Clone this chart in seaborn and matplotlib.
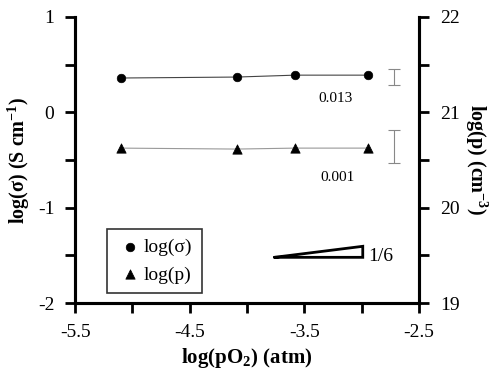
import matplotlib
matplotlib.use("Agg")
import matplotlib.pyplot as plt
import pandas as pd
import seaborn as sns

# data
log_po2 = [-5.1, -4.09, -3.58, -2.94]
log_sigma = [0.36, 0.37, 0.39, 0.39]
log_p = [20.625, 20.615, 20.625, 20.625]

err_x = -2.72
sigma_err = (0.37, 0.085)     # centre, half width
p_err = (20.64, 0.175)
err_labels = ["0.013", "0.001"]

slope_x = [-3.76, -2.99]
slope_y0 = -1.52
slope = 1 / 6

sns.set_style("ticks")
plt.rcParams["font.family"] = ["Liberation Serif", "DejaVu Serif"]
plt.rcParams["mathtext.fontset"] = "custom"
plt.rcParams["mathtext.rm"] = "Liberation Serif"
plt.rcParams["mathtext.bf"] = "Liberation Serif:bold"
plt.rcParams["axes.unicode_minus"] = False
plt.rcParams["text.color"] = "black"
plt.rcParams["axes.labelcolor"] = "black"
plt.rcParams["xtick.color"] = "black"
plt.rcParams["ytick.color"] = "black"

df = pd.DataFrame({"x": log_po2, "sigma": log_sigma, "p": log_p})
df["p_left"] = df["p"] - 21  # right axis 19..22 maps to left -2..1

fig, ax = plt.subplots(figsize=(4.94, 3.77), dpi=100)
fig.subplots_adjust(left=0.152, right=0.848, top=0.955, bottom=0.196)

sns.lineplot(data=df, x="x", y="sigma", ax=ax, color="#444444", lw=0.8)
sns.lineplot(data=df, x="x", y="p_left", ax=ax, color="#999999", lw=0.8)
sns.scatterplot(data=df, x="x", y="sigma", ax=ax, marker="o", color="black",
                s=38, edgecolor="black", zorder=3, label="log(σ)")
sns.scatterplot(data=df, x="x", y="p_left", ax=ax, marker="^", color="black",
                s=45, edgecolor="black", zorder=3, label="log(p)")

# gray error bars
ax.errorbar([err_x], [sigma_err[0]], yerr=[sigma_err[1]], color="#888888",
            lw=0.8, capsize=4, capthick=0.8)
ax.errorbar([err_x], [p_err[0] - 21], yerr=[p_err[1]], color="#888888",
            lw=0.8, capsize=4, capthick=0.8)
ax.text(-3.23, 0.14, err_labels[0], fontsize=11, ha="center", va="center")
ax.text(-3.21, -0.68, err_labels[1], fontsize=11, ha="center", va="center")

# slope triangle
sx0, sx1 = slope_x
sy1 = slope_y0 + slope * (sx1 - sx0) * 0.9
ax.plot([sx0, sx1, sx1, sx0], [slope_y0, slope_y0, sy1, slope_y0],
        color="black", lw=2, solid_joinstyle="miter")
ax.text(sx1 + 0.05, slope_y0 + 0.01, "1/6", fontsize=14, va="center", ha="left")

ax.set_xlim(-5.5, -2.5)
ax.set_ylim(-2, 1)
ax.set_xticks([-5.5, -4.5, -3.5, -2.5])
ax.set_xticks([-5.0, -4.0, -3.0], minor=True)
ax.set_yticks([-2, -1, 0, 1])
ax.set_yticks([-1.5, -0.5, 0.5], minor=True)
ax.tick_params(axis="both", which="both", direction="out", width=2, color="black",
               labelsize=14, pad=8, length=7)
ax.set_xlabel(r"log(pO$_\mathbf{2}$) (atm)", fontsize=15, fontweight="bold",
              labelpad=4)
ax.set_ylabel(r"log($\mathbf{\sigma}$) (S cm$^\mathbf{-1}$)", fontsize=14.5,
              fontweight="bold")

ax2 = ax.twinx()
ax2.set_ylim(19, 22)
ax2.set_yticks([19, 20, 21, 22])
ax2.set_yticks([19.5, 20.5, 21.5], minor=True)
ax2.tick_params(axis="y", which="both", direction="out", width=2, length=7,
                labelsize=14, pad=8)
ax2.set_ylabel(r"log(p) (cm$^\mathbf{-3}$)", fontsize=14.5, fontweight="bold",
               rotation=270, labelpad=22)

for a in (ax, ax2):
    a.spines["top"].set_visible(False)
    for s in ("left", "right", "bottom"):
        a.spines[s].set_linewidth(2.2)
        a.spines[s].set_color("black")

leg = ax.legend(loc="lower left", bbox_to_anchor=(0.065, 0.0), fontsize=14,
                frameon=True, fancybox=False, edgecolor="black",
                handletextpad=0.1, handlelength=1.3, borderpad=0.5,
                labelspacing=0.5)
leg.get_frame().set_linewidth(1.2)

fig.savefig("out.png", dpi=100)
